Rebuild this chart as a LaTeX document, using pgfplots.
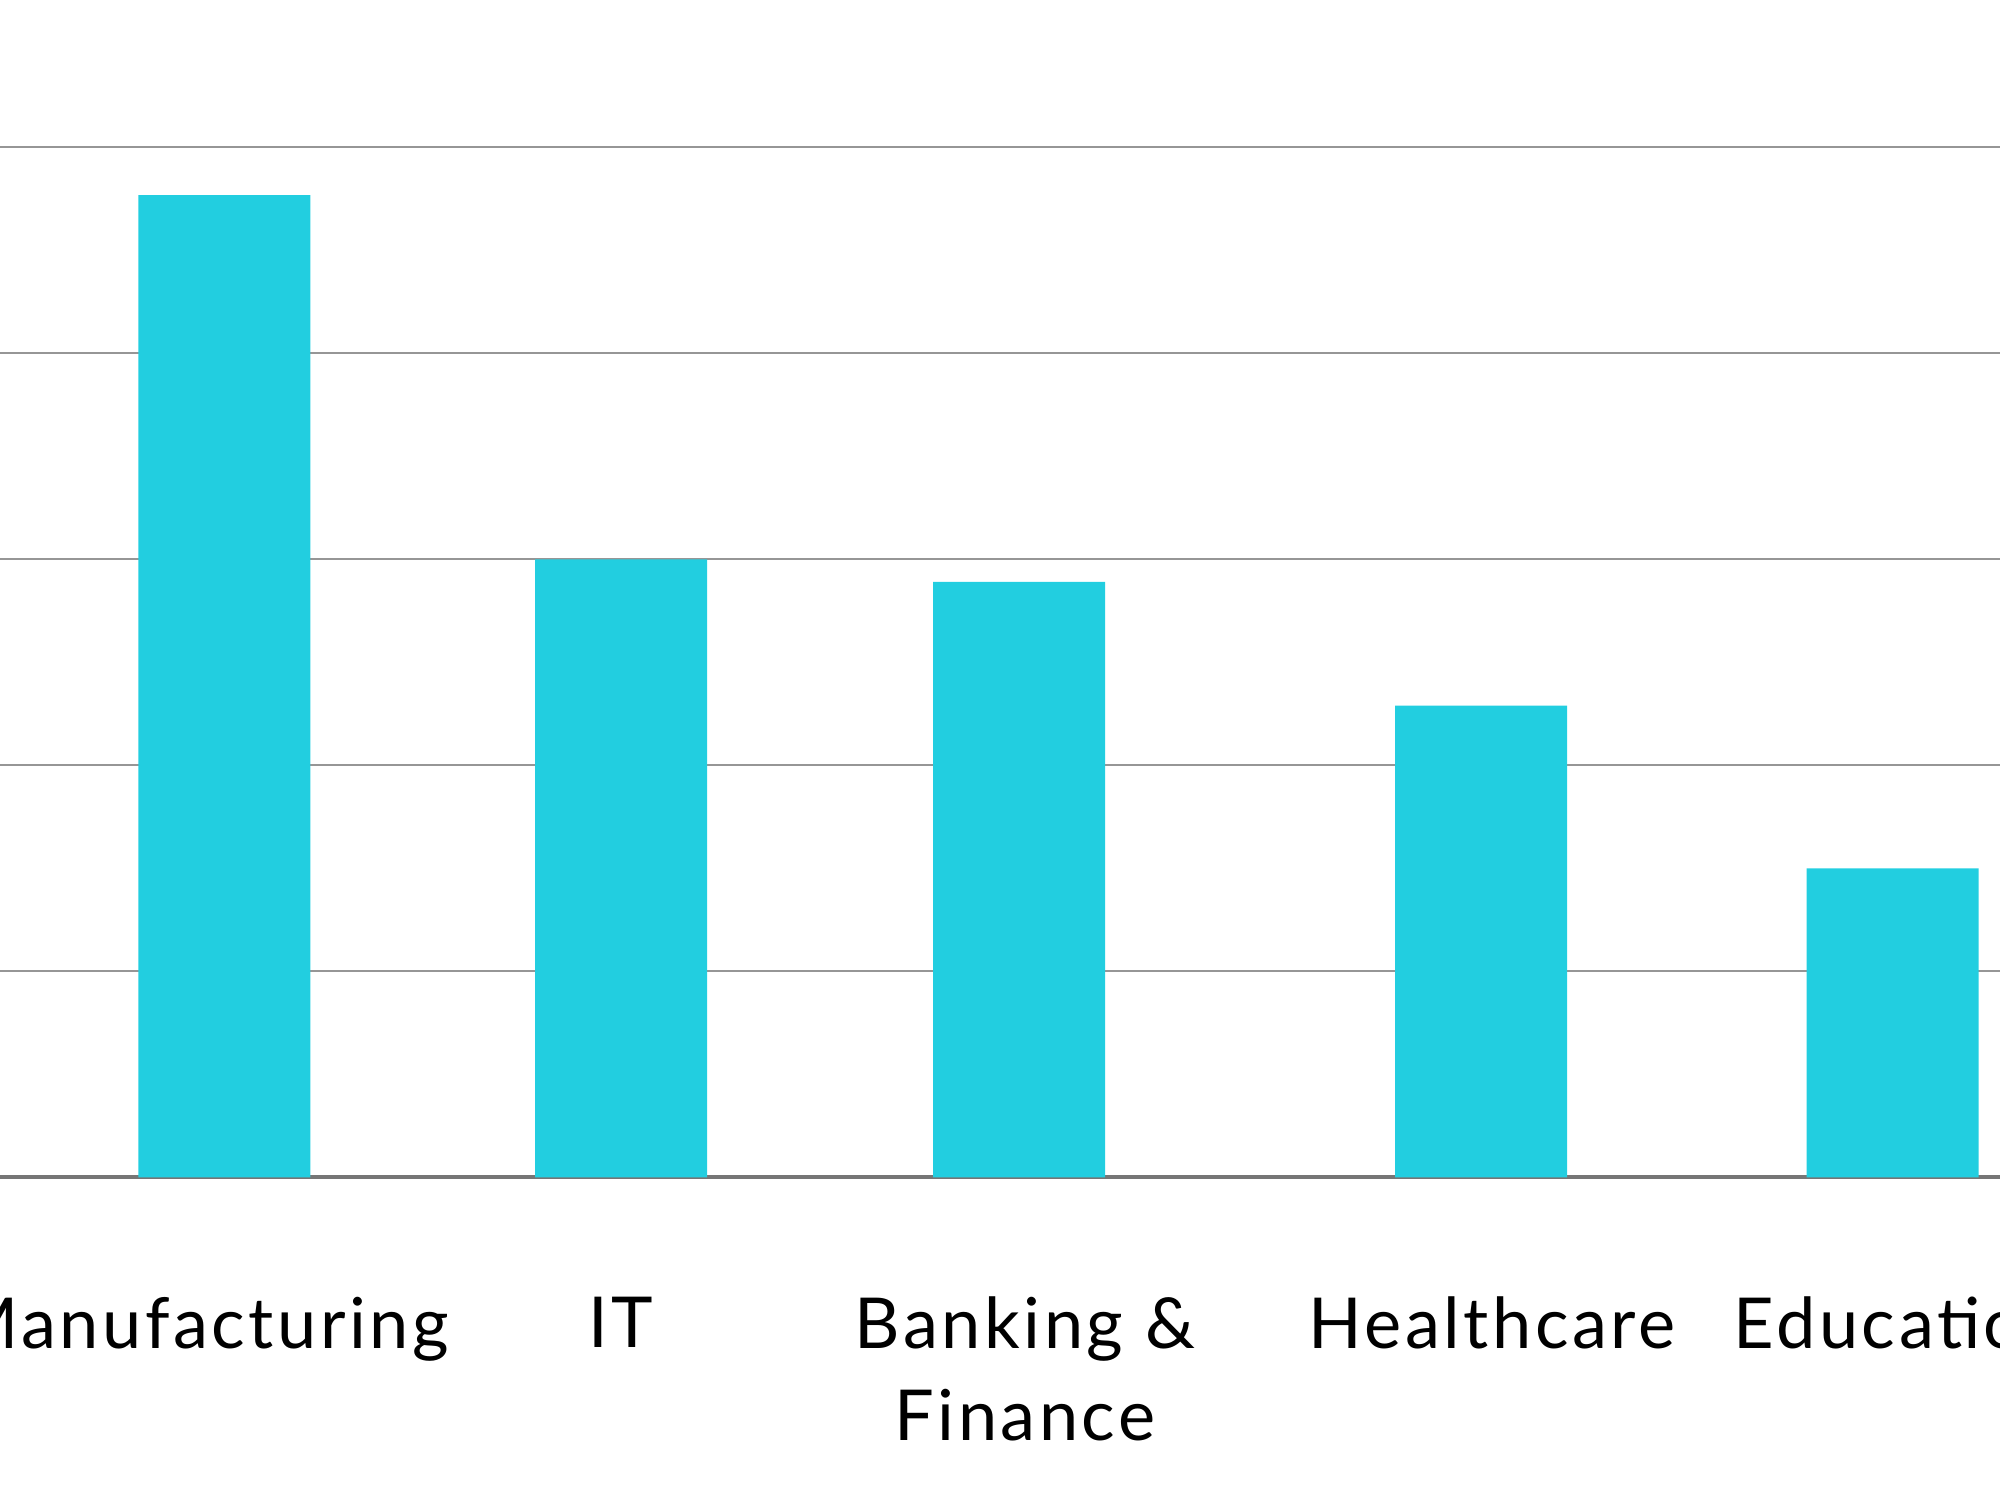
\documentclass[border=0pt]{standalone}
\usepackage{fontspec}
\setmainfont{Lato}[LetterSpace=5]
\usepackage{pgfplots}
\pgfplotsset{compat=1.18}
\definecolor{barc}{RGB}{34,206,224}
\definecolor{gridc}{RGB}{150,150,150}
\definecolor{basec}{RGB}{118,118,118}
\begin{document}
\begin{tikzpicture}
\path[use as bounding box] (0,0) rectangle (20cm,15cm);
\clip (0,0) rectangle (20cm,15cm);
\begin{axis}[at={(0,0)}, anchor=south west, scale only axis,
  width=20cm, height=15cm,
  xmin=0, xmax=2000, ymin=-1.5665, ymax=5.715,
  axis x line=middle, axis y line=left,
  y axis line style={draw=none},
  x axis line style={draw=basec, line width=1.1pt, -},
  major tick length=0pt,
  xtick={201,621,1025,1492,1900},
  xticklabels={Manufacturing,IT,{Banking \&\\Finance},Healthcare,Education},
  xticklabel style={anchor=north, align=center, inner sep=0pt, yshift=-1.19cm,
    font=\fontsize{20}{26}\selectfont, text=black},
  ytick={1,2,3,4,5}, yticklabels={},
  ymajorgrids, major grid style={draw=gridc, line width=0.6pt},
  ybar, bar width=1.72cm,
]
\addplot[fill=barc, draw=none] coordinates {
  (224.5,4.768) (621,3.0) (1019,2.89) (1481,2.29) (1892.5,1.50)};
\end{axis}
\end{tikzpicture}
\end{document}
